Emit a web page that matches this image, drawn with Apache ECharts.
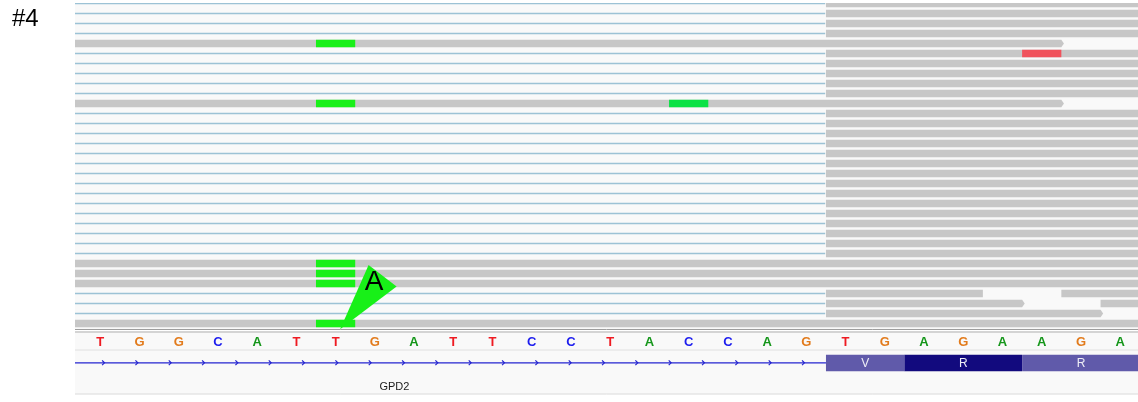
<!DOCTYPE html>
<html>
<head>
<meta charset="utf-8">
<title>#4 GPD2</title>
<script src="https://cdn.jsdelivr.net/npm/echarts@6/dist/echarts.min.js"></script>
<style>
  html, body { margin: 0; padding: 0; background: #ffffff; }
  #chart { width: 1138px; height: 402px; }
</style>
</head>
<body>
<div id="chart"></div>
<script>
// Reference sequence shown in the window (one letter per base, base i spans [i, i+1])
const BASES = ['T','G','G','C','A','T','T','G','A','T','T','C','C','T','A','C','C','A','G','T','G','A','G','A','A','G','A'];

// Visible genomic window, in base units
const VIEW_START = -0.143;
const VIEW_END = 26.954;
const ROW_FIRST = -0.05;
const ROW_LAST = 32.55;

// Aligned read blocks: [row, start, end, strand arrow at end (1) or not (0)]
const READ_BLOCKS = [
  [0, 19, 28, 0], [1, 19, 28, 0], [2, 19, 28, 0], [3, 19, 28, 0],
  [4, -1, 25, 1],
  [5, 19, 28, 0], [6, 19, 28, 0], [7, 19, 28, 0], [8, 19, 28, 0], [9, 19, 28, 0],
  [10, -1, 25, 1],
  [11, 19, 28, 0], [12, 19, 28, 0], [13, 19, 28, 0], [14, 19, 28, 0], [15, 19, 28, 0],
  [16, 19, 28, 0], [17, 19, 28, 0], [18, 19, 28, 0], [19, 19, 28, 0], [20, 19, 28, 0],
  [21, 19, 28, 0], [22, 19, 28, 0], [23, 19, 28, 0], [24, 19, 28, 0], [25, 19, 28, 0],
  [26, -1, 28, 0], [27, -1, 28, 0], [28, -1, 28, 0],
  [29, 19, 23, 0], [29, 25, 28, 0],
  [30, 19, 24, 1], [30, 26, 28, 0],
  [31, 19, 26, 1],
  [32, -1, 28, 0]
];

// Spliced (N) gaps: [row, start, end]
const SPLICE_GAPS = [
  [0, -1, 19], [1, -1, 19], [2, -1, 19], [3, -1, 19],
  [5, -1, 19], [6, -1, 19], [7, -1, 19], [8, -1, 19], [9, -1, 19],
  [11, -1, 19], [12, -1, 19], [13, -1, 19], [14, -1, 19], [15, -1, 19],
  [16, -1, 19], [17, -1, 19], [18, -1, 19], [19, -1, 19], [20, -1, 19],
  [21, -1, 19], [22, -1, 19], [23, -1, 19], [24, -1, 19], [25, -1, 19],
  [29, -1, 19], [30, -1, 19], [31, -1, 19]
];

// Mismatched bases: [row, base, read allele, high quality (1) or lower (0)]
const MISMATCHES = [
  [4, 6, 'A', 1],
  [5, 24, 'T', 1],
  [10, 6, 'A', 1], [10, 15, 'A', 0],
  [26, 6, 'A', 1], [27, 6, 'A', 1], [28, 6, 'A', 1],
  [32, 6, 'A', 1]
];

// Highlighted variant call-out: [row, base, allele]
const CALLOUTS = [[32, 6, 'A']];

// Gene model: intron ends where the exon begins; codons with their amino acids
const GENE_NAME = ['GPD2'];
const GENE_LABEL_AT = [8.0];
const INTRON = [[-1, 19]];
const CODONS = [[19, 21, 'V'], [21, 24, 'R'], [24, 27, 'R']];

const BASE_COLORS = { T: '#ee1b22', G: '#e27b1c', A: '#15961a', C: '#1d1dee' };
const MISMATCH_COLORS = { A: '#18f018', T: '#f0525c', G: '#e0902a', C: '#3a3af0' };
const MISMATCH_LOWQ = { A: '#0be245', T: '#f07078', G: '#e0a050', C: '#6060f0' };
const READ_FILL = '#c7c7c7';
const PANEL_BG = '#f9f9f9';
const FONT = '"Liberation Sans", Arial, Helvetica, sans-serif';

const chart = echarts.init(document.getElementById('chart'), null, { renderer: 'canvas' });

function readItem(params, api) {
  const row = api.value(0), s = api.value(1), e = api.value(2), arrow = api.value(3);
  const a = api.coord([s, row]);
  const b = api.coord([e, row]);
  const h = 7.6, top = a[1] - h / 2;
  if (arrow) {
    return {
      type: 'polygon',
      shape: { points: [[a[0], top], [b[0], top], [b[0] + 2.6, a[1]], [b[0], top + h], [a[0], top + h]] },
      style: { fill: READ_FILL }
    };
  }
  return { type: 'rect', shape: { x: a[0], y: top, width: b[0] - a[0], height: h }, style: { fill: READ_FILL } };
}

function gapItem(params, api) {
  const row = api.value(0);
  const a = api.coord([api.value(1), row]);
  const b = api.coord([api.value(2), row]);
  return {
    type: 'line',
    shape: { x1: a[0], y1: a[1], x2: b[0] - 0.8, y2: a[1] },
    style: { stroke: '#9cc2d5', lineWidth: 1.7 }
  };
}

function mismatchItem(params, api) {
  const row = api.value(0), base = api.value(1);
  const allele = MISMATCHES[params.dataIndex][2];
  const hq = api.value(3);
  const a = api.coord([base, row]);
  const b = api.coord([base + 1, row]);
  const h = 7.6;
  return {
    type: 'rect',
    shape: { x: a[0], y: a[1] - h / 2, width: b[0] - a[0], height: h },
    style: { fill: hq ? MISMATCH_COLORS[allele] : MISMATCH_LOWQ[allele] }
  };
}

function calloutItem(params, api) {
  const row = api.value(0), base = api.value(1);
  const allele = CALLOUTS[params.dataIndex][2];
  const c = api.coord([base + 0.5, row]);
  const tip = [c[0] + 4.5, c[1] + 5.8];
  return {
    type: 'group',
    children: [
      {
        type: 'polygon',
        shape: { points: [tip, [c[0] + 33, c[1] - 58.5], [c[0] + 61, c[1] - 37]] },
        style: { fill: '#18f018' }
      },
      {
        type: 'text',
        x: c[0] + 38.5, y: c[1] - 41.5,
        style: { text: allele, fill: '#000000', font: 'normal 28px ' + FONT, align: 'center', verticalAlign: 'middle' }
      }
    ]
  };
}

function sequenceItem(params, api) {
  const i = api.value(0);
  const p = api.coord([i + 0.5, 0.5]);
  const letter = BASES[i];
  return {
    type: 'text',
    x: p[0], y: p[1] + 1,
    style: { text: letter, fill: BASE_COLORS[letter], font: 'bold 13px ' + FONT, align: 'center', verticalAlign: 'middle' }
  };
}

function intronItem(params, api) {
  const rect = params.coordSys;
  const a = api.coord([Math.max(api.value(0), VIEW_START), 0]);
  const b = api.coord([api.value(1), 0]);
  const y = rect.y + 12.8;
  const children = [{
    type: 'line',
    shape: { x1: a[0], y1: y, x2: b[0], y2: y },
    style: { stroke: '#2424d0', lineWidth: 1.3 }
  }];
  // strand chevrons at a fixed screen spacing along the intron
  for (let x = a[0] + 28.3; x < b[0] - 18; x += 33.33) {
    children.push({
      type: 'polyline',
      shape: { points: [[x - 1.2, y - 2.4], [x + 1.2, y], [x - 1.2, y + 2.4]] },
      style: { stroke: '#2424d0', lineWidth: 1.2, fill: null }
    });
  }
  return { type: 'group', children };
}

function codonItem(params, api) {
  const rect = params.coordSys;
  const a = api.coord([api.value(0), 0]);
  const b = api.coord([api.value(1), 0]);
  const aa = CODONS[params.dataIndex][2];
  const top = rect.y + 4.7, h = 16.6;
  return {
    type: 'group',
    children: [
      {
        type: 'rect',
        shape: { x: a[0], y: top, width: b[0] - a[0], height: h },
        style: { fill: params.dataIndex % 2 === 1 ? '#120a7e' : '#605aaa' }
      },
      {
        type: 'text',
        x: (a[0] + b[0]) / 2, y: top + h / 2 + 0.5,
        style: { text: aa, fill: '#eeeef6', font: 'normal 12px ' + FONT, align: 'center', verticalAlign: 'middle' }
      }
    ]
  };
}

function geneLabelItem(params, api) {
  const rect = params.coordSys;
  const p = api.coord([api.value(0), 0]);
  return {
    type: 'text',
    x: p[0], y: rect.y + 36.5,
    style: { text: GENE_NAME[params.dataIndex], fill: '#1a1a1a', font: 'normal 11px ' + FONT, align: 'center', verticalAlign: 'middle' }
  };
}

const axisX = (gi) => ({ type: 'value', gridIndex: gi, min: VIEW_START, max: VIEW_END, show: false });

const option = {
  animation: false,
  backgroundColor: '#ffffff',
  title: {
    text: '#4', left: 7, top: 2,
    textStyle: { fontFamily: FONT, fontSize: 24, fontWeight: 'normal', color: '#000000' }
  },
  grid: [
    { left: 75, right: 0, top: 3, height: 326, show: true, backgroundColor: PANEL_BG, borderWidth: 0 },
    { left: 75, right: 0, top: 333, height: 17, show: true, backgroundColor: PANEL_BG, borderWidth: 0 },
    { left: 75, right: 0, top: 350, height: 44, show: true, backgroundColor: PANEL_BG, borderWidth: 0 }
  ],
  xAxis: [axisX(0), axisX(1), axisX(2)],
  yAxis: [
    { type: 'value', gridIndex: 0, min: ROW_FIRST, max: ROW_LAST, inverse: true, show: false },
    { type: 'value', gridIndex: 1, min: 0, max: 1, inverse: true, show: false },
    { type: 'value', gridIndex: 2, min: 0, max: 1, inverse: true, show: false }
  ],
  graphic: [
    { type: 'line', shape: { x1: 75, y1: 329.5, x2: 1138, y2: 329.5 }, style: { stroke: '#9d9d9d', lineWidth: 1 }, z: 10 },
    { type: 'line', shape: { x1: 75, y1: 332, x2: 1138, y2: 332 }, style: { stroke: '#a9a9a9', lineWidth: 1.2 }, z: 10 },
    { type: 'line', shape: { x1: 75, y1: 350, x2: 1138, y2: 350 }, style: { stroke: '#e0e0e0', lineWidth: 1 }, z: 10 },
    { type: 'line', shape: { x1: 75, y1: 394, x2: 1138, y2: 394 }, style: { stroke: '#dadada', lineWidth: 1 }, z: 10 }
  ],
  series: [
    { type: 'custom', name: 'gaps', xAxisIndex: 0, yAxisIndex: 0, renderItem: gapItem, data: SPLICE_GAPS, encode: { x: [1, 2], y: 0 }, clip: true, silent: true },
    { type: 'custom', name: 'reads', xAxisIndex: 0, yAxisIndex: 0, renderItem: readItem, data: READ_BLOCKS, encode: { x: [1, 2], y: 0 }, clip: true, silent: true },
    { type: 'custom', name: 'mismatches', xAxisIndex: 0, yAxisIndex: 0, renderItem: mismatchItem, data: MISMATCHES.map(m => [m[0], m[1], 0, m[3]]), encode: { x: 1, y: 0 }, clip: true, silent: true, z: 3 },
    { type: 'custom', name: 'callout', xAxisIndex: 0, yAxisIndex: 0, renderItem: calloutItem, data: CALLOUTS.map(c => [c[0], c[1]]), encode: { x: 1, y: 0 }, clip: false, silent: true, z: 5 },
    { type: 'custom', name: 'sequence', xAxisIndex: 1, yAxisIndex: 1, renderItem: sequenceItem, data: BASES.map((b, i) => [i]), encode: { x: 0 }, silent: true },
    { type: 'custom', name: 'intron', xAxisIndex: 2, yAxisIndex: 2, renderItem: intronItem, data: INTRON, encode: { x: [0, 1] }, silent: true },
    { type: 'custom', name: 'codons', xAxisIndex: 2, yAxisIndex: 2, renderItem: codonItem, data: CODONS.map(c => [c[0], c[1]]), encode: { x: [0, 1] }, clip: true, silent: true },
    { type: 'custom', name: 'gene', xAxisIndex: 2, yAxisIndex: 2, renderItem: geneLabelItem, data: GENE_LABEL_AT.map(x => [x]), encode: { x: 0 }, silent: true }
  ]
};

chart.setOption(option);
</script>
</body>
</html>
